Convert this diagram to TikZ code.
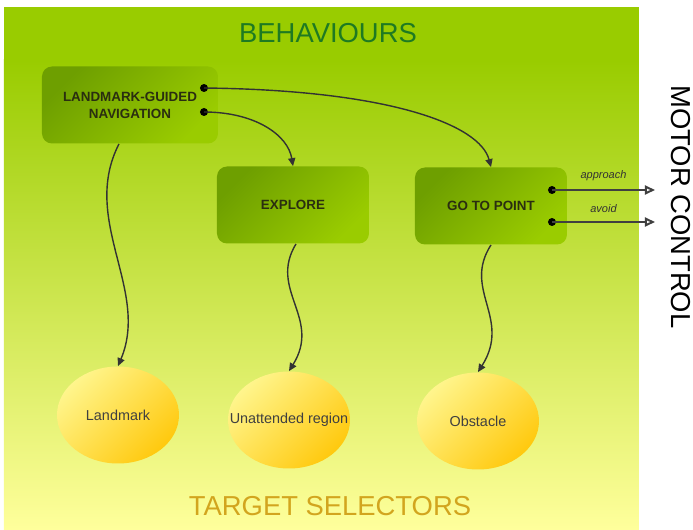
\documentclass[tikz,border=0pt]{standalone}
\usepackage{fontspec}
\setmainfont{Liberation Sans}
\usetikzlibrary{arrows.meta, positioning, shapes.geometric, calc}
\definecolor{bPanel}{HTML}{99CC00}
\definecolor{bMid}{HTML}{D2EA78}
\definecolor{bLow}{HTML}{FFFF9C}
\definecolor{bBoxDark}{HTML}{6E9F00}
\definecolor{bBoxLight}{HTML}{9ACC00}
\definecolor{bTitle}{HTML}{1E7A22}
\definecolor{bTarget}{HTML}{D2A51E}
\definecolor{bEllLight}{HTML}{FFF58C}
\definecolor{bEllDark}{HTML}{FFC90E}
\definecolor{bInk}{HTML}{2A2E10}

\begin{document}
\begin{tikzpicture}[x=0.5pt, y=-0.5pt,
      beh/.style={rounded corners=5pt, top color=bBoxDark, bottom color=bBoxLight,
                  shading angle=45, minimum width=76pt, minimum height=38.5pt,
                  align=center, text=bInk,
                  font=\fontsize{6.7}{8.5}\selectfont\bfseries},
      sel/.style={ellipse, top color=bEllLight, bottom color=bEllDark, shading angle=45,
                  minimum width=61pt, minimum height=48.5pt, inner ysep=0pt, inner xsep=-14pt,
                  text=black!75, font=\fontsize{7.2}{9}\selectfont},
      link/.style={draw=black!80, line width=0.7pt, -{Triangle[length=4pt, width=3.6pt]}},
      outlink/.style={draw=black!75, line width=1pt, -{Triangle[open, length=5pt, width=4.5pt]}},
      dot/.style={circle, fill=black, inner sep=0pt, minimum size=4pt},
      ttl/.style={font=\fontsize{13.7}{16}\selectfont}]
    \useasboundingbox (0,0) rectangle (693,530);
    % panel
    \fill[bPanel] (4,7) rectangle (639,62);
    \shade[top color=bPanel, middle color=bMid, bottom color=bLow] (4,60) rectangle (639,530);
    % titles
    \node[ttl, text=bTitle] (behav) at (328,33) {BEHAVIOURS};
    \node[ttl, text=bTarget] (target) at (330,506) {TARGET SELECTORS};
    \node[ttl, rotate=-90] (motor) at (681,207) {MOTOR CONTROL};
    % behaviours
    \node[beh, minimum width=88pt] (lgn) at (130,105) {LANDMARK-GUIDED\\NAVIGATION};
    \node[beh] (explore) at (293,205) {EXPLORE};
    \node[beh] (gotop) at (491,206) {GO TO POINT};
    % target selectors
    \node[sel] (landmark) at (118,415) {Landmark};
    \node[sel] (unatt) at (289,420) {Unattended region};
    \node[sel] (obst) at (478,421) {Obstacle};
    % outputs
    \node[dot] (n1) at (204,88) {};
    \node[dot] (n2) at (204,112) {};
    \node[dot] (g1) at (552,190) {};
    \node[dot] (g2) at (552,222) {};
    \coordinate (m1) at (655,190);
    \coordinate (m2) at (655,222);
    \draw[link] (n1.center) .. controls (390,90) and (480,125) .. (gotop.north);
    \draw[link] (n2.center) .. controls (255,112) and (288,135) .. (explore.north);
    \draw[link] ([xshift=-5.5pt]lgn.south) .. controls (80,220) and (150,290) .. (landmark.north);
    \draw[link] ([xshift=1.5pt]explore.south) .. controls (268,290) and (322,318) .. (unatt.north);
    \draw[link] (gotop.south) .. controls (462,290) and (512,318) .. (obst.north);
    \draw[outlink] (g1.center) -- (m1)
      node[midway, above=1pt, font=\fontsize{5.5}{6}\selectfont\itshape, text=black!80] {approach};
    \draw[outlink] (g2.center) -- (m2)
      node[midway, above=1pt, font=\fontsize{5.5}{6}\selectfont\itshape, text=black!80] {avoid};
  \end{tikzpicture}
\end{document}
